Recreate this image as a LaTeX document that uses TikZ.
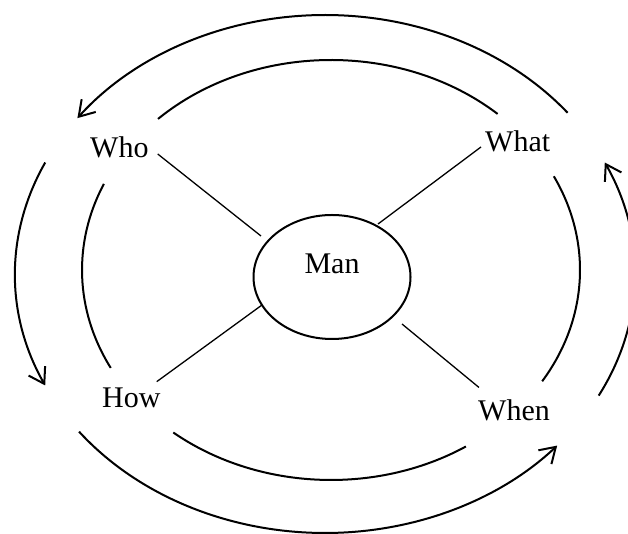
\documentclass[tikz,border=0pt]{standalone}
\usepackage{fontspec}
\setmainfont{Liberation Serif}
\usetikzlibrary{shapes.geometric,arrows.meta}
\begin{document}
\begin{tikzpicture}[x=1pt,y=1pt,
  lbl/.style={inner sep=0pt,font=\fontsize{30}{36}\selectfont},
  ring/.style={line width=2pt},
  ringarrow/.style={line width=2pt,-{Straight Barb[length=15pt,width=19pt]}},
  spoke/.style={line width=1.3pt}]
\useasboundingbox (0,0) rectangle (628,534);
\coordinate (oc) at (325,260);
\coordinate (ic) at (331,264);
% outer arrows
\draw[ringarrow] ([shift={(38.5:310 and 259)}]oc) arc[start angle=38.5,end angle=143,x radius=310,y radius=259];
\draw[ringarrow] ([shift={(154.5:310 and 259)}]oc) arc[start angle=154.5,end angle=205.5,x radius=310,y radius=259];
\draw[ringarrow] ([shift={(217.5:310 and 259)}]oc) arc[start angle=217.5,end angle=318.5,x radius=310,y radius=259];
\draw[ringarrow] ([shift={(-28:310 and 259)}]oc) arc[start angle=-28,end angle=25.5,x radius=310,y radius=259];
% inner arcs
\draw[ring] ([shift={(48:249 and 210)}]ic) arc[start angle=48,end angle=134,x radius=249,y radius=210];
\draw[ring] ([shift={(155.8:249 and 210)}]ic) arc[start angle=155.8,end angle=207.8,x radius=249,y radius=210];
\draw[ring] ([shift={(230.7:249 and 210)}]ic) arc[start angle=230.7,end angle=302.8,x radius=249,y radius=210];
\draw[ring] ([shift={(-32:249 and 210)}]ic) arc[start angle=-32,end angle=26.5,x radius=249,y radius=210];
% center
\node[ellipse,draw,line width=2pt,minimum width=157pt,minimum height=124pt,inner sep=0pt,
  font=\fontsize{30}{36}\selectfont,text height=20pt,text depth=26pt] (man) at (332,257) {Man};
% labels
\node[lbl,anchor=base west] (who) at (90,376) {Who};
\node[lbl,anchor=base west] (what) at (485,382) {What};
\node[lbl,anchor=base west] (how) at (102,126) {How};
\node[lbl,anchor=base west] (when) at (478,113) {When};
% spokes
\draw[spoke] ([shift={(9,4)}]who.base east) -- ([shift={(-71,41)}]man.center);
\draw[spoke] ([shift={(-4,5)}]what.base west) -- ([shift={(46,53)}]man.center);
\draw[spoke] ([shift={(-4,6.5)}]how.north east) -- ([shift={(-70,-28)}]man.center);
\draw[spoke] ([shift={(1,12.5)}]when.north west) -- ([shift={(70,-47)}]man.center);
\end{tikzpicture}
\end{document}
